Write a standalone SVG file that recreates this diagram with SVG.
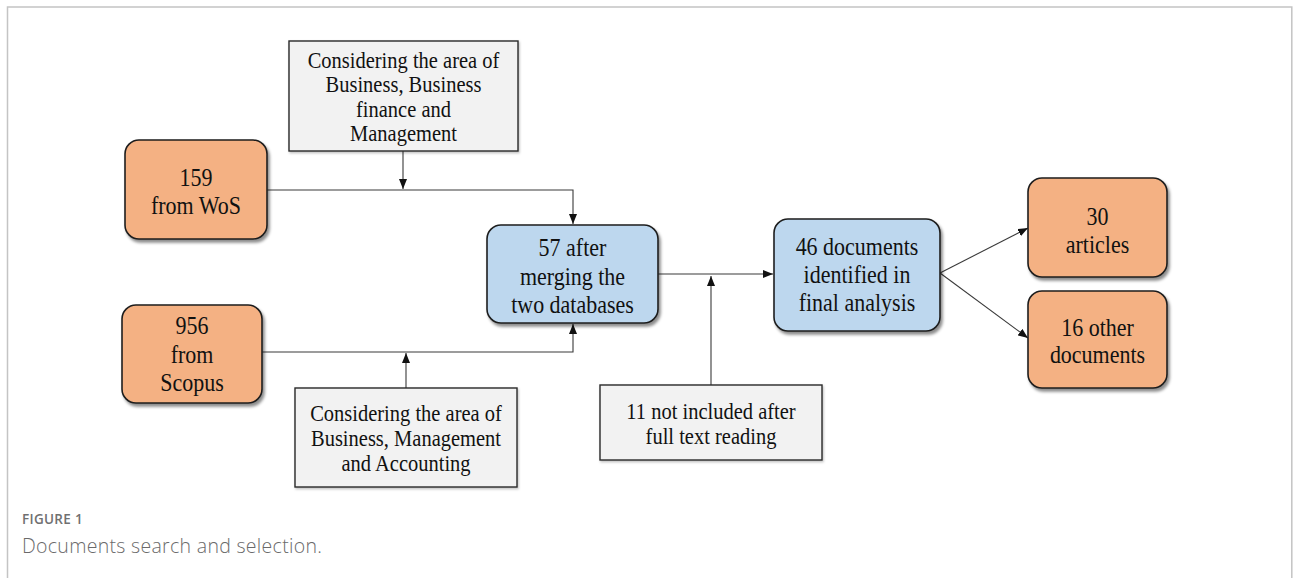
<svg xmlns="http://www.w3.org/2000/svg" width="1293" height="578" viewBox="0 0 1293 578">
<defs>
<style>
.rbox{stroke:#1e1e1e;stroke-width:1.6;filter:url(#sh)}
.orange{fill:#F4B183}
.blue{fill:#BDD7EE}
.gbox{fill:#F2F2F2;stroke:#2a2a2a;stroke-width:1.4;filter:url(#sh2)}
.t{font-family:"Liberation Serif","Times New Roman",serif;fill:#111;text-anchor:middle}
.big{font-size:22px}
.small{font-size:20.5px}
.con{fill:none;stroke:#3a3a3a;stroke-width:1.1}
.cap1{font-family:"Open Sans","Noto Sans",sans-serif;font-size:13.5px;font-weight:600;fill:#707070;letter-spacing:0.3px}
.cap2{font-family:"Open Sans","Noto Sans",sans-serif;font-size:19.5px;font-weight:300;fill:#6a6a6a;letter-spacing:0.3px}
</style>
<filter id="sh" x="-20%" y="-20%" width="150%" height="150%">
<feDropShadow dx="2" dy="3" stdDeviation="1.8" flood-color="#000" flood-opacity="0.45"/>
</filter>
<filter id="sh2" x="-20%" y="-20%" width="150%" height="150%">
<feDropShadow dx="1" dy="1.5" stdDeviation="1" flood-color="#000" flood-opacity="0.25"/>
</filter>
<marker id="ah" viewBox="0 0 10 8" refX="10" refY="4" markerWidth="10" markerHeight="8" markerUnits="userSpaceOnUse" orient="auto">
<path d="M0,0 L10,4 L0,8 Z" fill="#111"/>
</marker>
</defs>
<rect width="1293" height="578" fill="#fff"/>
<path d="M7.5,578 V7 H1291.8 V578" fill="none" stroke="#c4c4c4" stroke-width="1.5"/>

<g id="connectors">
<path class="con" d="M267,190 H573 V224" marker-end="url(#ah)"/>
<path class="con" d="M403,151 V189" marker-end="url(#ah)"/>
<path class="con" d="M262,352 H573 V324" marker-end="url(#ah)"/>
<path class="con" d="M406,388 V353" marker-end="url(#ah)"/>
<path class="con" d="M658,274 H773" marker-end="url(#ah)"/>
<path class="con" d="M711,385 V276" marker-end="url(#ah)"/>
<path class="con" d="M940,273 L1028,228" marker-end="url(#ah)"/>
<path class="con" d="M940,273 L1028,338" marker-end="url(#ah)"/>
</g>

<g id="filter-wos">
<rect class="gbox" x="289" y="41" width="229" height="110"/>
<text class="t small" transform="translate(403.5,67.5) scale(1,1.12)">Considering the area of</text>
<text class="t small" transform="translate(403.5,92) scale(1,1.12)">Business, Business</text>
<text class="t small" transform="translate(403.5,116.5) scale(1,1.12)">finance and</text>
<text class="t small" transform="translate(403.5,141) scale(1,1.12)">Management</text>
</g>

<g id="wos">
<rect class="rbox orange" x="125" y="140" width="142" height="99" rx="14"/>
<text class="t big" transform="translate(196,186) scale(1,1.12)">159</text>
<text class="t big" transform="translate(196,214) scale(1,1.12)">from WoS</text>
</g>

<g id="scopus">
<rect class="rbox orange" x="122" y="305" width="140" height="98" rx="14"/>
<text class="t big" transform="translate(192,334) scale(1,1.12)">956</text>
<text class="t big" transform="translate(192,363) scale(1,1.12)">from</text>
<text class="t big" transform="translate(192,391) scale(1,1.12)">Scopus</text>
</g>

<g id="filter-scopus">
<rect class="gbox" x="295" y="388" width="222" height="99"/>
<text class="t small" transform="translate(406,420.5) scale(1,1.12)">Considering the area of</text>
<text class="t small" transform="translate(406,445.5) scale(1,1.12)">Business, Management</text>
<text class="t small" transform="translate(406,470.5) scale(1,1.12)">and Accounting</text>
</g>

<g id="merged">
<rect class="rbox blue" x="487" y="225" width="171" height="98" rx="14"/>
<text class="t big" transform="translate(572.5,256) scale(1,1.12)">57 after</text>
<text class="t big" transform="translate(572.5,285) scale(1,1.12)">merging the</text>
<text class="t big" transform="translate(572.5,313) scale(1,1.12)">two databases</text>
</g>

<g id="excluded">
<rect class="gbox" x="600" y="385" width="222" height="75"/>
<text class="t small" transform="translate(711,418.5) scale(1,1.12)">11 not included after</text>
<text class="t small" transform="translate(711,443.5) scale(1,1.12)">full text reading</text>
</g>

<g id="final">
<rect class="rbox blue" x="774" y="219" width="166" height="112" rx="14"/>
<text class="t big" transform="translate(857,255) scale(1,1.12)">46 documents</text>
<text class="t big" transform="translate(857,283) scale(1,1.12)">identified in</text>
<text class="t big" transform="translate(857,311) scale(1,1.12)">final analysis</text>
</g>

<g id="articles">
<rect class="rbox orange" x="1028" y="178" width="139" height="99" rx="14"/>
<text class="t big" transform="translate(1097.5,225) scale(1,1.12)">30</text>
<text class="t big" transform="translate(1097.5,253) scale(1,1.12)">articles</text>
</g>

<g id="others">
<rect class="rbox orange" x="1028" y="291" width="139" height="97" rx="14"/>
<text class="t big" transform="translate(1097.5,336) scale(1,1.12)">16 other</text>
<text class="t big" transform="translate(1097.5,363) scale(1,1.12)">documents</text>
</g>

<g id="caption">
<text class="cap1" x="22" y="524">FIGURE 1</text>
<text class="cap2" x="22" y="553">Documents search and selection.</text>
</g>
</svg>
